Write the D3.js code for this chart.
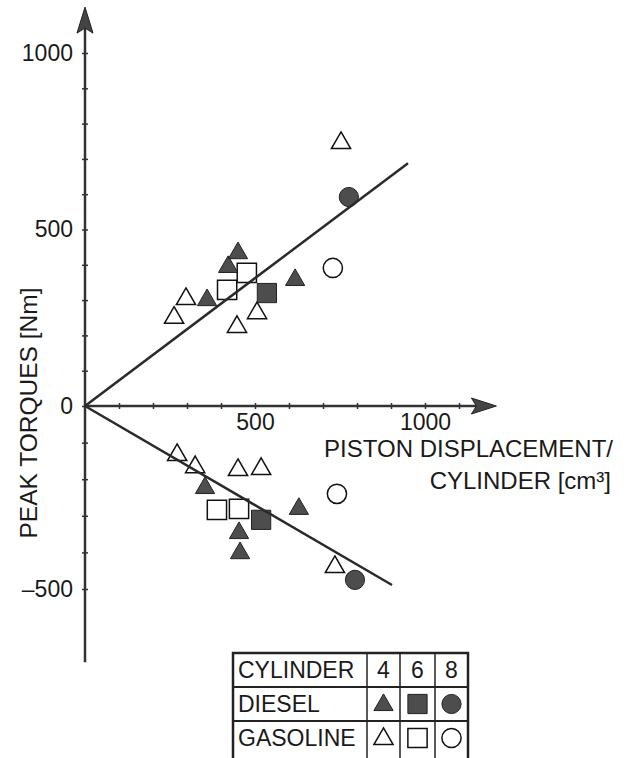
<!DOCTYPE html>
<html>
<head>
<meta charset="utf-8">
<script src="https://cdn.jsdelivr.net/npm/d3@7"></script>
<style>
  body { margin: 0; background: #fff; }
  text { font-family: "Liberation Sans", Arial, sans-serif; fill: #1a1a1a; }
</style>
</head>
<body>
<div id="chart"></div>
<script>
// series: [displacement per cylinder (cm3), peak torque (Nm)]
var diesel4 = [[359, 300], [421, 394], [450, 433], [618, 357],
               [353, -224], [453, -347], [456, -402], [629, -281]];
var diesel6 = [[535, 320], [518, -311]];
var diesel8 = [[776, 592], [794, -475]];
var gasoline4 = [[262, 250], [297, 303], [447, 224], [506, 263], [753, 745],
                 [271, -134], [324, -167], [450, -175], [518, -172], [735, -440]];
var gasoline6 = [[418, 329], [476, 377], [388, -284], [453, -281]];
var gasoline8 = [[729, 391], [741, -240]];

// fitted lines
var upperFit = [[0, 0], [950, 688]];
var lowerFit = [[0, 0], [903, -489]];

// tick labels
var xLabels = [500, 1000];
var yLabels = [-500, 0, 500, 1000];

// legend table
var legendRows = ["CYLINDER", "DIESEL", "GASOLINE"];
var cylinders = ["4", "6", "8"];

var width = 633, height = 758;

var svg = d3.select("#chart")
  .append("svg")
    .attr("width", width)
    .attr("height", height);

var x = d3.scaleLinear()
  .domain([0, 1000])
  .range([85, 425]);

// scanned figure: the negative half is slightly stretched
var y = d3.scaleLinear()
  .domain([-500, 0, 1000])
  .range([589, 406, 53]);

var axisColor = "#333";

// X axis
var xAxis = svg.append("g")
  .attr("transform", "translate(0," + y(0) + ")")
  .call(d3.axisBottom(x)
    .tickValues(d3.range(100, 1101, 100))
    .tickSize(3)
    .tickPadding(5)
    .tickFormat(function(d) { return xLabels.indexOf(d) >= 0 ? d : ""; }));
xAxis.select(".domain").remove();
xAxis.selectAll("line").attr("y1", -3).attr("stroke", axisColor).attr("stroke-width", 1.5);
xAxis.selectAll("text").style("font-size", "23px").attr("fill", "#1a1a1a");

// Y axis
var yAxis = svg.append("g")
  .attr("transform", "translate(" + x(0) + ",0)")
  .call(d3.axisLeft(y)
    .tickValues(d3.range(-500, 1001, 100))
    .tickSize(3)
    .tickPadding(9)
    .tickFormat(function(d) {
      if (yLabels.indexOf(d) < 0) return "";
      return d < 0 ? "\u2013" + (-d) : d;
    }));
yAxis.select(".domain").remove();
yAxis.selectAll("line").attr("x1", 3).attr("stroke", axisColor).attr("stroke-width", 1.5);
yAxis.selectAll("text").style("font-size", "23px").attr("fill", "#1a1a1a");

// axis lines with arrows
var xEnd = 1210, yTop = 1130, yBottom = -700;
svg.append("line")
  .attr("x1", x(0)).attr("y1", y(0))
  .attr("x2", x(xEnd) - 20).attr("y2", y(0))
  .attr("stroke", axisColor).attr("stroke-width", 2.5);
svg.append("line")
  .attr("x1", x(0)).attr("y1", y(yBottom))
  .attr("x2", x(0)).attr("y2", y(yTop) + 20)
  .attr("stroke", axisColor).attr("stroke-width", 2.5);

svg.append("path")
  .attr("d", "M" + x(xEnd) + "," + y(0) +
             "L" + (x(xEnd) - 25) + "," + (y(0) - 8) +
             "L" + (x(xEnd) - 20) + "," + y(0) +
             "L" + (x(xEnd) - 25) + "," + (y(0) + 8) + "Z")
  .attr("fill", "#444").attr("stroke", "#222").attr("stroke-width", 1);
svg.append("path")
  .attr("d", "M" + x(0) + "," + y(yTop) +
             "L" + (x(0) - 8) + "," + (y(yTop) + 26) +
             "L" + x(0) + "," + (y(yTop) + 21) +
             "L" + (x(0) + 8) + "," + (y(yTop) + 26) + "Z")
  .attr("fill", "#444").attr("stroke", "#222").attr("stroke-width", 1);

// axis titles
svg.append("text")
  .attr("transform", "translate(37," + 413 + ")rotate(-90)")
  .attr("text-anchor", "middle")
  .style("font-size", "24.5px")
  .text("PEAK TORQUES [Nm]");

svg.append("text")
  .attr("x", 613).attr("y", 457)
  .attr("text-anchor", "end")
  .style("font-size", "24px")
  .text("PISTON DISPLACEMENT/");
svg.append("text")
  .attr("x", 611).attr("y", 489)
  .attr("text-anchor", "end")
  .style("font-size", "24px")
  .text("CYLINDER [cm\u00b3]");

// markers
var filledFill = "#4d4d4d", filledStroke = "#222";
var shapes = {
  tri: d3.symbol().type(d3.symbolTriangle).size(160),
  sq: d3.symbol().type(d3.symbolSquare).size(370),
  circ: d3.symbol().type(d3.symbolCircle).size(290)
};

var series = [
  { data: gasoline4, shape: "tri", filled: false },
  { data: gasoline6, shape: "sq", filled: false },
  { data: gasoline8, shape: "circ", filled: false },
  { data: diesel4, shape: "tri", filled: true },
  { data: diesel6, shape: "sq", filled: true },
  { data: diesel8, shape: "circ", filled: true }
];

series.forEach(function(s) {
  svg.selectAll(null)
    .data(s.data)
    .enter()
    .append("path")
      .attr("transform", function(d) { return "translate(" + x(d[0]) + "," + y(d[1]) + ")"; })
      .attr("d", shapes[s.shape])
      .attr("fill", s.filled ? filledFill : "#fff")
      .attr("stroke", s.filled ? filledStroke : "#111")
      .attr("stroke-width", s.filled ? 1 : 1.5);
});

// fitted lines
var line = d3.line()
  .x(function(d) { return x(d[0]); })
  .y(function(d) { return y(d[1]); });

[upperFit, lowerFit].forEach(function(f) {
  svg.append("path")
    .attr("d", line(f))
    .attr("fill", "none")
    .attr("stroke", "#2a2a2a")
    .attr("stroke-width", 2.5);
});

// legend table
var tLeft = 233, tTop = 653, rowH = 34;
var colEdges = [tLeft, 367, 400, 435, 468];
var tBottom = tTop + rowH * 3 + 6;

var legend = svg.append("g");

legend.append("rect")
  .attr("x", tLeft).attr("y", tTop)
  .attr("width", colEdges[4] - tLeft).attr("height", tBottom - tTop)
  .attr("fill", "none").attr("stroke", "#222").attr("stroke-width", 2.5);

[1, 2].forEach(function(i) {
  legend.append("line")
    .attr("x1", tLeft).attr("x2", colEdges[4])
    .attr("y1", tTop + rowH * i).attr("y2", tTop + rowH * i)
    .attr("stroke", "#222").attr("stroke-width", 2);
});
colEdges.slice(1, 4).forEach(function(cx) {
  legend.append("line")
    .attr("x1", cx).attr("x2", cx)
    .attr("y1", tTop).attr("y2", tBottom)
    .attr("stroke", "#222").attr("stroke-width", 1.5);
});

legend.selectAll(".rowlabel")
  .data(legendRows)
  .enter()
  .append("text")
    .attr("x", tLeft + 5)
    .attr("y", function(d, i) { return tTop + rowH * i + 25; })
    .style("font-size", "23px")
    .text(function(d) { return d; });

legend.selectAll(".collabel")
  .data(cylinders)
  .enter()
  .append("text")
    .attr("x", function(d, i) { return (colEdges[i + 1] + colEdges[i + 2]) / 2; })
    .attr("y", tTop + 25)
    .attr("text-anchor", "middle")
    .style("font-size", "23px")
    .text(function(d) { return d; });

var legendShapes = ["tri", "sq", "circ"];
[true, false].forEach(function(filled, r) {
  legendShapes.forEach(function(sh, i) {
    legend.append("path")
      .attr("transform", "translate(" + (colEdges[i + 1] + colEdges[i + 2]) / 2 + "," +
            (tTop + rowH * (r + 1) + rowH / 2 + (sh === "tri" ? 1 : 0)) + ")")
      .attr("d", shapes[sh])
      .attr("fill", filled ? filledFill : "#fff")
      .attr("stroke", filled ? filledStroke : "#111")
      .attr("stroke-width", filled ? 1 : 1.5);
  });
});
</script>
</body>
</html>
